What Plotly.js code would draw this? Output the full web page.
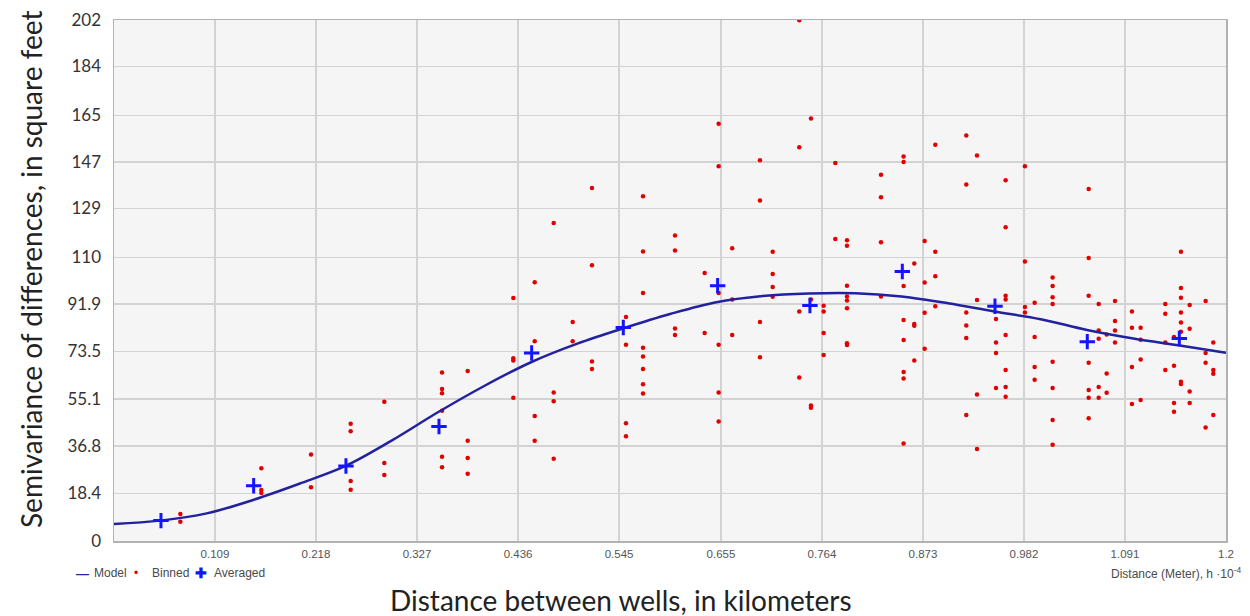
<!DOCTYPE html>
<html>
<head>
<meta charset="utf-8">
<script src="https://cdn.plot.ly/plotly-3.0.1.min.js"></script>
<style>
  html, body { margin: 0; padding: 0; background: #ffffff; }
  #chart { width: 1250px; height: 616px; }
</style>
</head>
<body>
<div id="chart"></div>
<script>
// Semivariogram: binned semivariances, bin averages and the fitted model.

// Tick labels (distance in kilometres, semivariance in square feet)
const xTickLabels = ['0.109', '0.218', '0.327', '0.436', '0.545', '0.655', '0.764', '0.873', '0.982', '1.091', '1.2'];
const yTickLabels = ['0', '18.4', '36.8', '55.1', '73.5', '91.9', '110', '129', '147', '165', '184', '202'];

// Binned semivariance values, grouped by lag distance
const binnedLags = [
  0.0716, 0.159, 0.2126, 0.2554, 0.2917, 0.354, 0.3817, 0.4309, 0.454, 0.4745,
  0.495, 0.5158, 0.5525, 0.5709, 0.6054, 0.6374, 0.6525, 0.6671, 0.6971, 0.7108,
  0.7395, 0.7521, 0.7658, 0.7784, 0.791, 0.8277, 0.8521, 0.8636, 0.8748, 0.8863,
  0.9197, 0.9313, 0.9518, 0.9622, 0.983, 0.9935, 1.0129, 1.0518, 1.0626, 1.0712,
  1.0802, 1.0985, 1.1079, 1.1345, 1.1439, 1.1514, 1.1608, 1.178, 1.1863
];
const binnedValues = [
  [10.5, 7.5],
  [28.2, 19.8, 18.6],
  [33.5, 20.8],
  [45.5, 42.6, 23.3, 19.9],
  [54.0, 30.2, 25.6],
  [65.3, 58.9, 57.3, 50.5, 32.7, 28.6],
  [65.9, 38.9, 32.2, 26.1],
  [94.2, 70.9, 70.0, 55.5],
  [100.3, 77.4, 48.5, 38.9],
  [123.3, 57.6, 54.2, 31.9],
  [84.9, 77.4],
  [136.9, 106.9, 69.6, 66.7],
  [86.8, 76.1, 45.7, 40.6],
  [133.7, 112.2, 96.2, 74.9, 71.5, 66.7, 60.8, 57.2],
  [118.4, 112.6, 82.4, 79.9],
  [103.9, 80.6],
  [161.8, 145.3, 96.2, 76.1, 57.6, 46.3],
  [113.5, 93.6, 79.9],
  [147.6, 132.0, 84.9, 71.2],
  [112.1, 103.5, 98.5, 94.7],
  [201.9, 152.7, 89.0, 63.4],
  [163.8, 93.6, 52.5, 51.7],
  [91.2, 89.0, 80.6, 72.1],
  [146.6, 117.1],
  [116.6, 114.5, 99.0, 94.8, 93.2, 90.2, 76.7, 76.0],
  [142.0, 133.3, 115.8, 94.8],
  [149.1, 146.9, 98.9, 85.7, 77.9, 65.5, 63.0, 37.8],
  [107.6, 84.1, 83.5, 70.0],
  [116.3, 100.2, 88.5, 74.5],
  [153.6, 112.1, 102.6, 91.0],
  [157.2, 138.2, 88.6, 83.6, 78.7, 48.9],
  [149.5, 93.4, 56.8, 35.7],
  [86.1, 77.0, 72.9, 59.3],
  [139.9, 121.6, 95.1, 93.6, 79.9, 66.3, 59.7, 55.9],
  [145.3, 108.4, 90.7, 88.6],
  [92.4, 79.1, 67.5, 62.5],
  [102.2, 98.9, 94.5, 91.9, 69.5, 59.3, 46.9, 37.3],
  [136.5, 109.7, 95.1, 69.1, 58.5, 55.5, 47.6],
  [91.9, 81.6, 78.4, 59.7, 55.5],
  [80.1, 64.9, 57.5],
  [93.1, 85.3, 81.6, 77.0],
  [89.0, 82.7, 67.5, 53.1],
  [82.7, 78.0, 70.4, 54.7],
  [91.9, 88.1, 77.0, 66.3],
  [79.1, 67.9, 53.5, 50.1],
  [112.1, 98.1, 94.3, 88.6, 84.7, 81.1, 61.7, 60.9],
  [91.5, 82.3, 58.0, 53.5],
  [93.1, 72.9, 69.1, 44.0],
  [77.0, 66.3, 64.8, 48.9]
];

// Averaged semivariance per lag class
const averagedLags = [0.0507, 0.1507, 0.2503, 0.3507, 0.4507, 0.5496, 0.6514, 0.751, 0.8507, 0.9507, 1.0503, 1.1496];
const averagedValues = [7.9, 21.4, 29.1, 44.4, 72.9, 82.8, 99.0, 91.3, 104.5, 91.0, 77.3, 78.5];

// Fitted model curve
const modelLags = [0, 0.05, 0.1, 0.15, 0.2, 0.25, 0.3, 0.35, 0.4, 0.45, 0.5, 0.55, 0.6,
                   0.65, 0.7, 0.75, 0.8, 0.85, 0.9, 0.95, 1.0, 1.05, 1.1, 1.15, 1.2];
const modelValues = [6.6, 7.9, 10.7, 15.9, 22.2, 29.1, 39.0, 50.0, 60.2, 69.3, 76.5, 82.5, 88.0,
                     92.6, 95.0, 96.0, 96.1, 94.8, 92.2, 89.0, 86.0, 81.8, 78.5, 75.8, 73.0];

const binnedX = [];
const binnedY = [];
binnedLags.forEach((lag, i) => {
  binnedValues[i].forEach(v => { binnedX.push(lag); binnedY.push(v); });
});

const modelColor = '#22229e';
const binnedColor = '#e00000';
const averagedColor = '#1414ff';

const traces = [
  {
    name: 'Binned', type: 'scatter', mode: 'markers',
    x: binnedX, y: binnedY,
    marker: { color: binnedColor, size: 4.5 },
    hoverinfo: 'x+y'
  },
  {
    name: 'Model', type: 'scatter', mode: 'lines',
    x: modelLags, y: modelValues,
    line: { color: modelColor, width: 2.5, shape: 'spline', smoothing: 1 },
    hoverinfo: 'x+y'
  },
  {
    name: 'Averaged', type: 'scatter', mode: 'markers',
    x: averagedLags, y: averagedValues,
    marker: { symbol: 'cross-thin', size: 11, line: { width: 3, color: averagedColor } },
    hoverinfo: 'x+y'
  }
];

const plotL = 114, plotR = 1226, plotT = 20, plotB = 541;
const pw = plotR - plotL, ph = plotB - plotT;
const px = v => (v - plotL) / pw;
const py = v => (plotB - v) / ph;

const gridColor = '#d3d3d3';
const frameColor = '#b2b2b2';
const keyFont = { family: '"Liberation Sans", Arial, sans-serif', size: 12, color: '#4a4a4a' };
const titleFont = { family: 'Lato, "Liberation Sans", sans-serif', size: 28, color: '#222' };

// Legend keys laid out along the bottom-left edge
const legendKeys = [
  { text: '<b>\u2014</b>', left: 74, color: modelColor, size: 13 },
  { text: 'Model', left: 92 },
  { text: '\u2022', left: 132, color: binnedColor, size: 12 },
  { text: 'Binned', left: 150 },
  { text: '<b>\u271A</b>', left: 193, color: averagedColor, size: 14 },
  { text: 'Averaged', left: 212 }
];

const annotations = [
  {
    text: 'Distance between wells, in kilometers',
    xref: 'paper', yref: 'paper', x: px(621), y: py(600),
    xanchor: 'center', yanchor: 'middle', showarrow: false, font: titleFont
  },
  {
    text: 'Semivariance of differences, in square feet',
    xref: 'paper', yref: 'paper', x: px(31), y: py(270),
    xanchor: 'center', yanchor: 'middle', textangle: -90, showarrow: false, font: titleFont
  },
  {
    text: 'Distance (Meter), h \u00b710<sup>-4</sup>',
    xref: 'paper', yref: 'paper', x: px(1244), y: py(573),
    xanchor: 'right', yanchor: 'middle', showarrow: false, font: keyFont
  }
];
legendKeys.forEach(k => {
  annotations.push({
    text: k.text,
    xref: 'paper', yref: 'paper', x: px(k.left), y: py(573),
    xanchor: 'left', yanchor: 'middle', showarrow: false,
    font: Object.assign({}, keyFont, k.color ? { color: k.color, size: k.size } : {})
  });
});

const layout = {
  width: 1250, height: 616,
  margin: { l: plotL, r: 1250 - plotR, t: plotT, b: 616 - plotB, pad: 0 },
  paper_bgcolor: '#ffffff',
  plot_bgcolor: '#f5f5f5',
  showlegend: false,
  font: { family: 'Lato, "Liberation Sans", sans-serif', color: '#333' },
  xaxis: {
    range: [0, 1.2], fixedrange: true,
    tickmode: 'array',
    tickvals: xTickLabels.map(Number), ticktext: xTickLabels,
    ticks: '', showgrid: true, gridcolor: gridColor, gridwidth: 1.3,
    zeroline: false, showline: true, linecolor: frameColor, linewidth: 1.5, mirror: true,
    tickfont: { family: '"Liberation Sans", Arial, sans-serif', size: 11.5, color: '#555' },
    ticklabelstandoff: 2
  },
  yaxis: {
    range: [0, 202], fixedrange: true,
    tickmode: 'array',
    tickvals: yTickLabels.map(Number), ticktext: yTickLabels,
    ticks: '', showgrid: true, gridcolor: gridColor, gridwidth: 1.3,
    zeroline: false, showline: true, linecolor: frameColor, linewidth: 1.5, mirror: true,
    tickfont: { family: 'Lato, "Liberation Sans", sans-serif', size: 17, color: '#333' },
    ticklabelstandoff: 8
  },
  annotations: annotations
};

Plotly.newPlot('chart', traces, layout, { staticPlot: true, displayModeBar: false });
</script>
</body>
</html>
